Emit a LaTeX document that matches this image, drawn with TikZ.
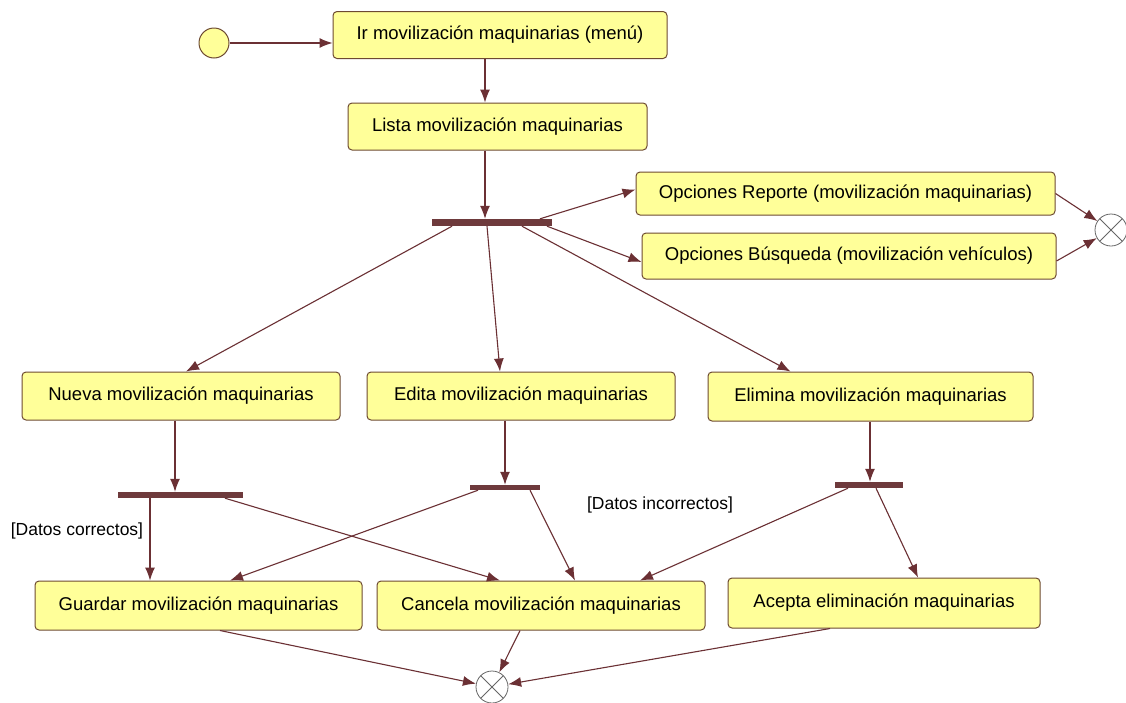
\documentclass[tikz,border=0pt]{standalone}
\usepackage{fontspec}
\setmainfont{Liberation Sans}
\usetikzlibrary{arrows.meta}
\definecolor{boxfill}{HTML}{FFFF99}
\definecolor{boxline}{HTML}{6E4A32}
\definecolor{flow}{HTML}{6B3034}
\definecolor{barcol}{HTML}{6E3A3C}
\begin{document}
\begin{tikzpicture}[x=1pt,y=-1pt,
  font=\fontsize{18.5}{21}\selectfont,
  activity/.style={draw=boxline,line width=1pt,fill=boxfill,rounded corners=4pt,
    inner sep=0pt,minimum height=47pt},
  syncbar/.style={fill=barcol,draw=none,inner sep=0pt},
  startnode/.style={circle,draw=boxline,line width=1pt,fill=boxfill,minimum size=30pt,inner sep=0pt},
  endnode/.style={circle,draw=black!60,line width=0.8pt,fill=white,minimum size=32pt,inner sep=0pt,
    path picture={\draw[black!60,line width=0.8pt]
      (path picture bounding box.south west)--(path picture bounding box.north east)
      (path picture bounding box.north west)--(path picture bounding box.south east);}},
  flowline/.style={draw=flow,line width=1.1pt,-{Latex[length=13pt,width=10pt,fill=flow]}},
  guard/.style={inner sep=0pt,font=\fontsize{17.5}{20}\selectfont}]
\useasboundingbox (0,0) rectangle (1126,702);
\fill[white] (0,0) rectangle (1126,702);

% start and the two top activities
\node[startnode] (start) at (214,43) {};
\node[activity,minimum width=334pt] (ir) at (500,35) {Ir movilización maquinarias (menú)};
\node[activity,minimum width=299pt] (lista) at (497.5,126.5) {Lista movilización maquinarias};

% first fork and the option activities
\node[syncbar,minimum width=120pt,minimum height=7pt] (fork1) at (492,222.5) {};
\node[activity,minimum width=419pt,minimum height=43pt] (reporte) at (845.5,193.5) {Opciones Reporte (movilización maquinarias)};
\node[activity,minimum width=414pt,minimum height=46pt] (busqueda) at (849,256) {Opciones Búsqueda (movilización vehículos)};
\node[endnode] (endA) at (1111,230) {};

% middle row
\node[activity,minimum width=318pt,minimum height=48pt] (nueva) at (181,396) {Nueva movilización maquinarias};
\node[activity,minimum width=308pt,minimum height=48pt] (edita) at (521,396) {Edita movilización maquinarias};
\node[activity,minimum width=325pt,minimum height=49pt] (elimina) at (870.5,396.5) {Elimina movilización maquinarias};

% second level bars
\node[syncbar,minimum width=125pt,minimum height=6pt] (fork2) at (180.5,495) {};
\node[syncbar,minimum width=70pt,minimum height=5pt] (fork3) at (505,487.5) {};
\node[syncbar,minimum width=68pt,minimum height=6pt] (fork4) at (869,485) {};

% bottom row
\node[activity,minimum width=327pt,minimum height=49pt] (guardar) at (198.5,605.5) {Guardar movilización maquinarias};
\node[activity,minimum width=328pt,minimum height=49pt] (cancela) at (541,605.5) {Cancela movilización maquinarias};
\node[activity,minimum width=312pt,minimum height=50pt] (acepta) at (884,603) {Acepta eliminación maquinarias};
\node[endnode] (endB) at (492,687) {};

% guards
\node[guard] (gcorr) at (77,531) {[Datos correctos]};
\node[guard] (ginc) at (660,505) {[Datos incorrectos]};

% transitions
\draw[flowline] (start) -- (start -| ir.west);
\draw[flowline] ([xshift=-15]ir.south) -- ([xshift=-12.5]lista.north);
\draw[flowline] ([xshift=-12.5]lista.south) -- ([xshift=-7]fork1.north);
\draw[flowline] ([xshift=48]fork1.north) -- ([yshift=4]reporte.west);
\draw[flowline] ([xshift=55]fork1.south) -- ([yshift=-6]busqueda.west);
\draw[flowline] (reporte.east) -- (endA);
\draw[flowline] ([yshift=-5]busqueda.east) -- (endA);
\draw[flowline] ([xshift=-40]fork1.south) -- ([xshift=5]nueva.north);
\draw[flowline] ([xshift=-5]fork1.south) -- ([xshift=-21]edita.north);
\draw[flowline] ([xshift=30]fork1.south) -- ([xshift=-80]elimina.north);
\draw[flowline] ([xshift=-6]nueva.south) -- ([xshift=-5.5]fork2.north);
\draw[flowline] ([xshift=-16]edita.south) -- (fork3.north);
\draw[flowline] ([xshift=-0.5]elimina.south) -- ([xshift=1]fork4.north);
\draw[flowline] ([xshift=-30.5]fork2.south) -- ([xshift=-48.5]guardar.north);
\draw[flowline] ([xshift=44.5]fork2.south) -- ([xshift=-41]cancela.north);
\draw[flowline] ([xshift=-27]fork3.south) -- ([xshift=31.5]guardar.north);
\draw[flowline] ([xshift=25]fork3.south) -- ([xshift=34]cancela.north);
\draw[flowline] ([xshift=-21]fork4.south) -- ([xshift=99]cancela.north);
\draw[flowline] ([xshift=7]fork4.south) -- ([xshift=34]acepta.north);
\draw[flowline] ([xshift=21.5]guardar.south) -- (endB);
\draw[flowline] ([xshift=-21]cancela.south) -- (endB);
\draw[flowline] ([xshift=-54]acepta.south) -- (endB);
\end{tikzpicture}
\end{document}
